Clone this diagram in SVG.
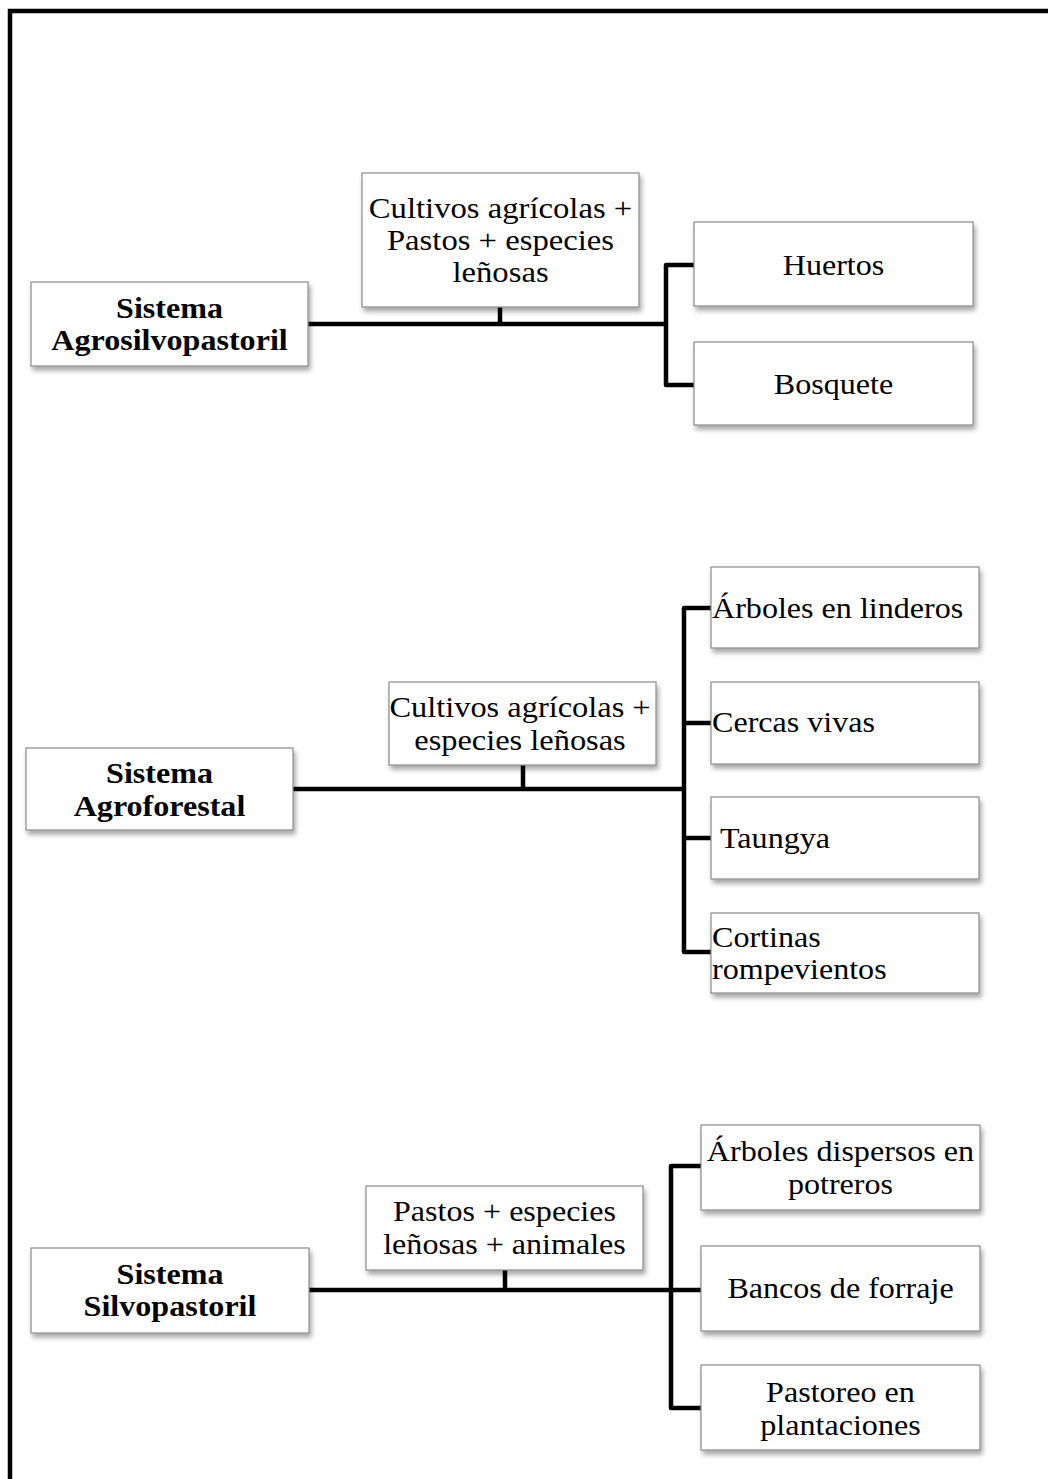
<svg xmlns="http://www.w3.org/2000/svg" width="1048" height="1479" viewBox="0 0 1048 1479">
<defs>
<filter id="sh" x="-10%" y="-10%" width="125%" height="135%">
<feDropShadow dx="2" dy="4" stdDeviation="2.5" flood-color="#000" flood-opacity="0.35"/>
</filter>
</defs>
<style>
.box{fill:#fff;stroke:#8a8a8a;stroke-width:1.2;filter:url(#sh)}
.t{font-family:"Liberation Serif","Times New Roman",serif;font-size:30px;fill:#000}
.c{text-anchor:middle}
.b{font-weight:bold}
.ln{fill:none;stroke:#000;stroke-width:4.5;stroke-linejoin:round}
</style>
<rect width="1048" height="1479" fill="#fff"/>
<path d="M10,1479 V11 H1048" fill="none" stroke="#000" stroke-width="4.5"/>
<g id="connectors">
<path class="ln" d="M308,324 H666 M500,307 V324 M694,265 H666 V385 H694"/>
<path class="ln" d="M293,789 H684 M523,765 V789 M711,608 H684 V952 H711 M684,723 H711 M684,838 H711"/>
<path class="ln" d="M309,1290 H671 M505,1270 V1290 M701,1166 H671 V1408 H701 M671,1290 H701"/>
</g>
<g id="n-agrosilvo"><rect class="box" x="31" y="282" width="277" height="84"/><text class="t b c" transform="translate(169.5 318) scale(1.07 1)">Sistema</text><text class="t b c" transform="translate(169.5 350) scale(1.07 1)">Agrosilvopastoril</text></g>
<g id="n-agrosilvo-comp"><rect class="box" x="362" y="173" width="277" height="134"/><text class="t c" transform="translate(500.5 218) scale(1.09 1)">Cultivos agrícolas +</text><text class="t c" transform="translate(500.5 250) scale(1.09 1)">Pastos + especies</text><text class="t c" transform="translate(500.5 282) scale(1.09 1)">leñosas</text></g>
<g id="n-huertos"><rect class="box" x="694" y="222" width="279" height="84"/><text class="t c" transform="translate(833.5 275) scale(1.07 1)">Huertos</text></g>
<g id="n-bosquete"><rect class="box" x="694" y="342" width="279" height="83"/><text class="t c" transform="translate(833.5 394) scale(1.07 1)">Bosquete</text></g>
<g id="n-agroforestal"><rect class="box" x="26" y="748" width="267" height="82"/><text class="t b c" transform="translate(159.5 783) scale(1.07 1)">Sistema</text><text class="t b c" transform="translate(159.5 816) scale(1.07 1)">Agroforestal</text></g>
<g id="n-agroforestal-comp"><rect class="box" x="389" y="682" width="267" height="83"/><text class="t c" transform="translate(520 717) scale(1.08 1)">Cultivos agrícolas +</text><text class="t c" transform="translate(520 750) scale(1.08 1)">especies leñosas</text></g>
<g id="n-linderos"><rect class="box" x="711" y="567" width="268" height="81"/><text class="t" transform="translate(712 618) scale(1.07 1)">Árboles en linderos</text></g>
<g id="n-cercas"><rect class="box" x="711" y="682" width="268" height="82"/><text class="t" transform="translate(712 732) scale(1.07 1)">Cercas vivas</text></g>
<g id="n-taungya"><rect class="box" x="711" y="797" width="268" height="82"/><text class="t" transform="translate(720 848) scale(1.07 1)">Taungya</text></g>
<g id="n-cortinas"><rect class="box" x="711" y="913" width="268" height="80"/><text class="t" transform="translate(712 947) scale(1.07 1)">Cortinas</text><text class="t" transform="translate(712 979) scale(1.07 1)">rompevientos</text></g>
<g id="n-silvo"><rect class="box" x="31" y="1248" width="278" height="85"/><text class="t b c" transform="translate(170 1284) scale(1.07 1)">Sistema</text><text class="t b c" transform="translate(170 1316) scale(1.07 1)">Silvopastoril</text></g>
<g id="n-silvo-comp"><rect class="box" x="366" y="1186" width="277" height="84"/><text class="t c" transform="translate(504.5 1221) scale(1.07 1)">Pastos + especies</text><text class="t c" transform="translate(504.5 1254) scale(1.07 1)">leñosas + animales</text></g>
<g id="n-dispersos"><rect class="box" x="701" y="1125" width="279" height="85"/><text class="t c" transform="translate(840.5 1161) scale(1.07 1)">Árboles dispersos en</text><text class="t c" transform="translate(840.5 1194) scale(1.07 1)">potreros</text></g>
<g id="n-bancos"><rect class="box" x="701" y="1246" width="279" height="85"/><text class="t c" transform="translate(840.5 1298) scale(1.07 1)">Bancos de forraje</text></g>
<g id="n-pastoreo"><rect class="box" x="701" y="1365" width="279" height="85"/><text class="t c" transform="translate(840.5 1402) scale(1.07 1)">Pastoreo en</text><text class="t c" transform="translate(840.5 1435) scale(1.07 1)">plantaciones</text></g>
</svg>
